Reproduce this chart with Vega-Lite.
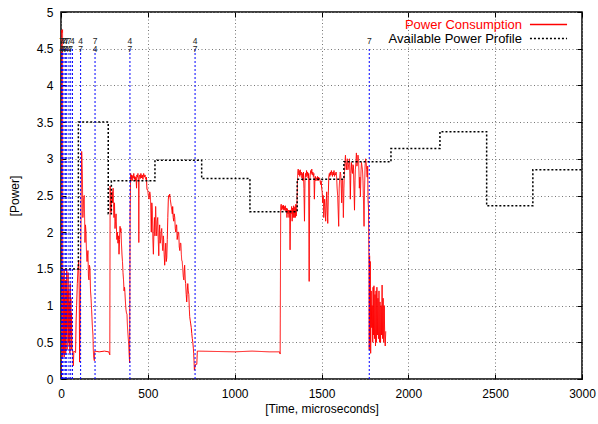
{
  "$schema": "https://vega.github.io/schema/vega-lite/v6.json",
  "width": 521,
  "height": 367,
  "autosize": "none",
  "padding": {"left": 61, "top": 12, "right": 16, "bottom": 45},
  "background": "white",
  "config": {
    "view": {"stroke": "black", "strokeWidth": 1.5},
    "font": "Liberation Sans",
    "axis": {
      "labelFont": "Liberation Sans", "labelFontSize": 12, "labelColor": "#000",
      "titleFont": "Liberation Sans", "titleFontSize": 12, "titleFontWeight": "normal", "titleColor": "#000",
      "grid": true, "gridColor": "#777", "gridDash": [1, 2.5], "gridOpacity": 1,
      "domain": false, "tickColor": "#000", "tickSize": -5, "tickWidth": 1,
      "labelFlush": false, "labelOverlap": false, "labelExpr": "datum.value + ''"
    }
  },
  "datasets": {
    "power": [
      {"t":0,"p":0},{"t":1,"p":0},{"t":2,"p":4.75},{"t":6,"p":4.72},{"t":9,"p":4.76},{"t":10,"p":0.3},{"t":12,"p":1.4},{"t":13,"p":0.35},{"t":15,"p":1.2},{"t":16,"p":0.4},{"t":18,"p":1.5},{"t":19,"p":0.3},{"t":21,"p":1.1},{"t":23,"p":0.5},{"t":25,"p":1.35},{"t":27,"p":0.35},{"t":29,"p":1.0},{"t":31,"p":0.6},{"t":33,"p":1.5},{"t":35,"p":0.4},{"t":37,"p":1.2},{"t":39,"p":0.7},{"t":41,"p":1.45},{"t":43,"p":0.5},{"t":45,"p":1.2},{"t":47,"p":0.45},{"t":49,"p":1.05},{"t":51,"p":0.35},{"t":53,"p":1.3},{"t":55,"p":0.6},{"t":57,"p":1.1},{"t":59,"p":0.4},{"t":61,"p":0.9},{"t":64,"p":0.4},{"t":68,"p":0.35},{"t":71,"p":0.18},{"t":74,"p":0.38},{"t":80,"p":0.37},{"t":84,"p":0.36},{"t":87,"p":0.8},{"t":90,"p":1.0},{"t":94,"p":1.3},{"t":98,"p":1.5},{"t":102,"p":1.62},{"t":105,"p":1.2},{"t":107,"p":0.23},{"t":110,"p":0.6},{"t":113,"p":1.5},{"t":116,"p":2.4},{"t":119,"p":3.1},{"t":123,"p":2.8},{"t":126,"p":2.2},{"t":130,"p":2.45},{"t":134,"p":2.5},{"t":138,"p":1.86},{"t":141,"p":2.1},{"t":144,"p":2.0},{"t":147,"p":1.7},{"t":150,"p":1.6},{"t":155,"p":1.75},{"t":158,"p":1.4},{"t":161,"p":1.35},{"t":164,"p":1.55},{"t":167,"p":1.5},{"t":170,"p":1.2},{"t":173,"p":1.1},{"t":176,"p":0.95},{"t":178,"p":0.85},{"t":181,"p":0.7},{"t":184,"p":0.6},{"t":186,"p":0.4},{"t":188,"p":0.3},{"t":192,"p":0.25},{"t":194,"p":0.38},{"t":220,"p":0.37},{"t":250,"p":0.38},{"t":275,"p":0.37},{"t":281,"p":0.33},{"t":283,"p":2.63},{"t":286,"p":2.35},{"t":288,"p":2.27},{"t":291,"p":2.45},{"t":294,"p":2.55},{"t":297,"p":2.4},{"t":300,"p":2.6},{"t":303,"p":2.3},{"t":305,"p":2.2},{"t":308,"p":2.4},{"t":311,"p":2.05},{"t":314,"p":2.15},{"t":317,"p":2.25},{"t":320,"p":2.0},{"t":322,"p":1.9},{"t":325,"p":2.0},{"t":328,"p":1.85},{"t":331,"p":1.95},{"t":334,"p":1.7},{"t":337,"p":1.9},{"t":340,"p":2.08},{"t":343,"p":2.0},{"t":345,"p":2.05},{"t":348,"p":1.85},{"t":351,"p":1.7},{"t":354,"p":1.6},{"t":357,"p":1.45},{"t":360,"p":1.35},{"t":363,"p":1.2},{"t":366,"p":1.25},{"t":368,"p":1.18},{"t":371,"p":1.05},{"t":374,"p":0.95},{"t":377,"p":0.9},{"t":380,"p":0.88},{"t":383,"p":0.7},{"t":386,"p":0.6},{"t":389,"p":0.5},{"t":391,"p":0.4},{"t":395,"p":0.22},{"t":398,"p":2.2},{"t":401,"p":2.8},{"t":404,"p":2.72},{"t":407,"p":2.78},{"t":410,"p":2.7},{"t":413,"p":2.77},{"t":416,"p":2.74},{"t":419,"p":2.8},{"t":422,"p":2.72},{"t":425,"p":2.76},{"t":428,"p":2.7},{"t":431,"p":2.75},{"t":433,"p":2.7},{"t":435,"p":2.6},{"t":437,"p":2.78},{"t":440,"p":2.75},{"t":443,"p":2.8},{"t":446,"p":2.72},{"t":448,"p":1.86},{"t":450,"p":2.75},{"t":453,"p":2.78},{"t":456,"p":2.73},{"t":460,"p":2.8},{"t":464,"p":2.74},{"t":468,"p":2.78},{"t":472,"p":2.72},{"t":476,"p":2.8},{"t":480,"p":2.75},{"t":484,"p":2.78},{"t":488,"p":2.72},{"t":492,"p":2.75},{"t":495,"p":2.58},{"t":499,"p":2.58},{"t":503,"p":2.5},{"t":507,"p":2.45},{"t":511,"p":2.55},{"t":515,"p":2.5},{"t":518,"p":2.2},{"t":520,"p":2.0},{"t":523,"p":2.4},{"t":526,"p":2.3},{"t":529,"p":1.9},{"t":532,"p":1.7},{"t":535,"p":2.0},{"t":538,"p":2.2},{"t":541,"p":1.95},{"t":545,"p":2.35},{"t":548,"p":2.1},{"t":551,"p":1.95},{"t":554,"p":2.15},{"t":557,"p":2.2},{"t":560,"p":1.9},{"t":563,"p":1.68},{"t":566,"p":2.0},{"t":568,"p":2.1},{"t":571,"p":1.85},{"t":574,"p":1.9},{"t":577,"p":2.0},{"t":580,"p":2.05},{"t":583,"p":1.85},{"t":586,"p":1.75},{"t":589,"p":1.95},{"t":591,"p":1.9},{"t":594,"p":1.7},{"t":597,"p":1.55},{"t":600,"p":1.7},{"t":603,"p":1.85},{"t":606,"p":1.6},{"t":609,"p":1.65},{"t":612,"p":1.9},{"t":615,"p":2.2},{"t":618,"p":2.45},{"t":620,"p":2.5},{"t":623,"p":2.48},{"t":626,"p":2.52},{"t":629,"p":2.45},{"t":632,"p":2.4},{"t":635,"p":2.35},{"t":638,"p":2.3},{"t":641,"p":2.25},{"t":643,"p":2.35},{"t":646,"p":2.2},{"t":649,"p":2.15},{"t":652,"p":2.25},{"t":655,"p":2.2},{"t":658,"p":2.05},{"t":661,"p":2.0},{"t":664,"p":2.1},{"t":666,"p":2.1},{"t":669,"p":1.9},{"t":672,"p":1.95},{"t":675,"p":2.0},{"t":678,"p":2.0},{"t":681,"p":1.8},{"t":684,"p":1.75},{"t":687,"p":1.85},{"t":690,"p":1.85},{"t":693,"p":1.7},{"t":695,"p":1.62},{"t":698,"p":1.6},{"t":701,"p":1.5},{"t":704,"p":1.4},{"t":707,"p":1.35},{"t":710,"p":1.5},{"t":712,"p":1.55},{"t":715,"p":1.35},{"t":718,"p":1.3},{"t":721,"p":1.15},{"t":724,"p":1.05},{"t":727,"p":1.2},{"t":730,"p":1.3},{"t":733,"p":1.2},{"t":736,"p":1.15},{"t":739,"p":0.95},{"t":741,"p":0.85},{"t":744,"p":0.8},{"t":747,"p":0.75},{"t":750,"p":0.7},{"t":753,"p":0.62},{"t":756,"p":0.55},{"t":759,"p":0.5},{"t":762,"p":0.42},{"t":764,"p":0.35},{"t":766,"p":0.25},{"t":768,"p":0.12},{"t":775,"p":0.2},{"t":782,"p":0.2},{"t":785,"p":0.38},{"t":1000,"p":0.37},{"t":1100,"p":0.38},{"t":1200,"p":0.37},{"t":1258,"p":0.37},{"t":1262,"p":0.34},
      {"t":1265,"p":2.35},{"t":1268,"p":2.38},{"t":1271,"p":2.3},{"t":1274,"p":2.36},{"t":1277,"p":2.32},{"t":1280,"p":2.37},{"t":1283,"p":2.3},{"t":1286,"p":2.35},{"t":1289,"p":2.3},{"t":1292,"p":2.36},{"t":1295,"p":2.28},{"t":1298,"p":2.33},{"t":1301,"p":2.2},{"t":1304,"p":2.32},{"t":1307,"p":2.25},{"t":1310,"p":2.3},{"t":1313,"p":2.2},{"t":1316,"p":2.3},{"t":1319,"p":1.76},{"t":1322,"p":2.3},{"t":1325,"p":2.25},{"t":1328,"p":2.35},{"t":1331,"p":2.15},{"t":1334,"p":2.33},{"t":1337,"p":2.2},{"t":1340,"p":2.36},{"t":1343,"p":2.2},{"t":1346,"p":2.34},{"t":1349,"p":2.2},{"t":1352,"p":2.38},{"t":1355,"p":2.22},{"t":1358,"p":2.35},{"t":1361,"p":2.6},{"t":1363,"p":2.82},{"t":1366,"p":2.86},{"t":1369,"p":2.78},{"t":1372,"p":2.84},{"t":1375,"p":2.76},{"t":1378,"p":2.85},{"t":1381,"p":2.78},{"t":1384,"p":2.82},{"t":1387,"p":2.74},{"t":1390,"p":2.8},{"t":1393,"p":2.7},{"t":1396,"p":2.82},{"t":1399,"p":2.6},{"t":1402,"p":2.15},{"t":1405,"p":2.7},{"t":1408,"p":2.8},{"t":1411,"p":2.75},{"t":1414,"p":2.84},{"t":1417,"p":2.77},{"t":1420,"p":2.82},{"t":1423,"p":2.74},{"t":1426,"p":2.8},{"t":1429,"p":1.33},{"t":1432,"p":2.7},{"t":1435,"p":2.78},{"t":1438,"p":2.84},{"t":1441,"p":2.8},{"t":1444,"p":2.86},{"t":1447,"p":2.78},{"t":1450,"p":2.82},{"t":1453,"p":2.76},{"t":1456,"p":2.8},{"t":1459,"p":2.45},{"t":1462,"p":2.72},{"t":1465,"p":2.76},{"t":1468,"p":2.7},{"t":1471,"p":2.74},{"t":1474,"p":2.72},{"t":1477,"p":2.76},{"t":1480,"p":2.7},{"t":1483,"p":2.75},{"t":1486,"p":2.72},{"t":1489,"p":2.74},{"t":1492,"p":2.7},{"t":1495,"p":2.65},{"t":1498,"p":2.7},{"t":1501,"p":2.6},{"t":1504,"p":2.55},{"t":1507,"p":2.4},{"t":1510,"p":2.5},{"t":1513,"p":2.2},{"t":1516,"p":2.35},{"t":1518,"p":2.45},{"t":1521,"p":2.3},{"t":1524,"p":2.15},{"t":1527,"p":2.4},{"t":1530,"p":2.55},{"t":1533,"p":2.3},{"t":1536,"p":2.12},{"t":1539,"p":2.5},{"t":1542,"p":2.75},{"t":1545,"p":2.8},{"t":1548,"p":2.76},{"t":1551,"p":2.82},{"t":1554,"p":2.78},{"t":1557,"p":2.84},{"t":1560,"p":2.8},{"t":1563,"p":2.76},{"t":1566,"p":2.82},{"t":1569,"p":2.78},{"t":1572,"p":2.84},{"t":1575,"p":2.76},{"t":1578,"p":2.8},{"t":1581,"p":2.78},{"t":1584,"p":2.82},{"t":1587,"p":2.75},{"t":1590,"p":2.6},{"t":1593,"p":2.5},{"t":1596,"p":2.3},{"t":1599,"p":2.08},{"t":1602,"p":2.6},{"t":1605,"p":2.75},{"t":1608,"p":2.82},{"t":1611,"p":2.78},{"t":1614,"p":2.6},{"t":1616,"p":2.4},{"t":1619,"p":2.72},{"t":1622,"p":2.7},{"t":1624,"p":2.45},{"t":1626,"p":2.2},{"t":1629,"p":2.6},{"t":1632,"p":2.8},{"t":1635,"p":2.95},{"t":1638,"p":3.05},{"t":1641,"p":2.9},{"t":1643,"p":2.85},{"t":1646,"p":2.95},{"t":1649,"p":3.0},{"t":1652,"p":2.85},{"t":1655,"p":2.9},{"t":1658,"p":2.95},{"t":1661,"p":3.0},{"t":1664,"p":2.7},{"t":1666,"p":2.45},{"t":1669,"p":2.8},{"t":1672,"p":2.95},{"t":1675,"p":2.85},{"t":1678,"p":2.8},{"t":1681,"p":2.92},{"t":1684,"p":2.9},{"t":1687,"p":2.6},{"t":1690,"p":2.3},{"t":1693,"p":2.7},{"t":1695,"p":2.85},{"t":1698,"p":2.95},{"t":1701,"p":3.08},{"t":1704,"p":2.9},{"t":1707,"p":2.95},{"t":1710,"p":3.05},{"t":1713,"p":3.0},{"t":1716,"p":2.8},{"t":1718,"p":2.6},{"t":1721,"p":2.75},{"t":1724,"p":2.48},{"t":1727,"p":2.8},{"t":1730,"p":2.95},{"t":1733,"p":2.9},{"t":1736,"p":2.85},{"t":1739,"p":2.7},{"t":1741,"p":2.5},{"t":1743,"p":2.3},{"t":1745,"p":2.08},{"t":1748,"p":2.6},{"t":1751,"p":2.9},{"t":1754,"p":3.0},{"t":1757,"p":2.95},{"t":1760,"p":2.85},{"t":1763,"p":2.75},{"t":1766,"p":2.9},{"t":1768,"p":2.45},{"t":1771,"p":2.3},{"t":1773,"p":1.7},{"t":1775,"p":0.4},{"t":1777,"p":1.68},{"t":1779,"p":0.5},{"t":1781,"p":1.6},{"t":1783,"p":0.35},{"t":1786,"p":1.2},{"t":1789,"p":0.7},{"t":1792,"p":1.0},{"t":1795,"p":0.5},{"t":1797,"p":1.25},{"t":1799,"p":0.6},{"t":1802,"p":1.27},{"t":1805,"p":0.55},{"t":1808,"p":1.15},{"t":1811,"p":0.45},{"t":1814,"p":1.2},{"t":1816,"p":0.5},{"t":1819,"p":1.25},{"t":1822,"p":0.6},{"t":1825,"p":1.1},{"t":1828,"p":0.55},{"t":1831,"p":1.2},{"t":1834,"p":0.5},{"t":1837,"p":1.05},{"t":1840,"p":0.5},{"t":1843,"p":1.0},{"t":1846,"p":0.6},{"t":1849,"p":1.28},{"t":1852,"p":0.55},{"t":1855,"p":1.1},{"t":1858,"p":0.5},{"t":1861,"p":1.0},{"t":1864,"p":0.6},{"t":1867,"p":0.45},{"t":1870,"p":0.65}
    ],
    "profile": [
      {"t":0,"p":1.5},{"t":100,"p":3.5},{"t":272,"p":2.25},{"t":290,"p":2.7},{"t":541,"p":2.98},{"t":810,"p":2.73},{"t":1088,"p":2.28},{"t":1360,"p":2.72},{"t":1629,"p":2.96},{"t":1900,"p":3.14},{"t":2182,"p":3.37},{"t":2451,"p":2.36},{"t":2717,"p":2.85},{"t":3000,"p":2.85}
    ],
    "events": [
      {"t":3,"a":"7","b":"4"},{"t":9,"a":"4","b":"7"},{"t":17,"a":"7","b":"4"},{"t":25,"a":"4","b":"7"},{"t":33,"a":"7","b":"4"},{"t":46,"a":"7","b":"4"},{"t":56,"a":"","b":"7"},{"t":66,"a":"4","b":""},{"t":113,"a":"4","b":"7"},{"t":196,"a":"7","b":"4"},{"t":397,"a":"4","b":"7"},{"t":772,"a":"4","b":"7"},{"t":1775,"a":"7","b":""}
    ]
  },
  "resolve": {"axis": {"x": "independent", "y": "independent"}},
  "layer": [
    {
      "data": {"name": "power"},
      "mark": {"type": "line", "strokeWidth": 1, "clip": true},
      "encoding": {
        "x": {"field": "t", "type": "quantitative", "scale": {"domain": [0, 3000], "nice": false},
              "axis": {"values": [0,500,1000,1500,2000,2500,3000], "title": "[Time, microseconds]", "labelPadding": 14, "titlePadding": 4}},
        "y": {"field": "p", "type": "quantitative", "scale": {"domain": [0, 5], "nice": false, "zero": false},
              "axis": {"values": [0,0.5,1,1.5,2,2.5,3,3.5,4,4.5,5], "title": "[Power]", "labelPadding": 13, "titlePadding": 15}},
        "color": {"datum": "Power Consumption", "type": "nominal",
                  "scale": {"domain": ["Power Consumption", "Available Power Profile"], "range": ["#ff0000", "#000000"]},
                  "legend": {"title": null, "orient": "none", "legendX": 481, "legendY": 6,
                             "symbolType": "M-4,0H4", "symbolSize": 86, "symbolStrokeWidth": 1.5,
                             "labelFont": "Liberation Sans", "labelFontSize": 13, "labelAlign": "right", "labelOffset": -33,
                             "rowPadding": 0, "padding": 0,
                             "encode": {"labels": {"update": {"fill": {"signal": "datum.value == 'Power Consumption' ? '#ff0000' : '#000000'"}}}}}},
        "strokeDash": {"datum": "Power Consumption", "type": "nominal",
                       "scale": {"domain": ["Power Consumption", "Available Power Profile"], "range": [[1, 0], [2, 2]]},
                       "legend": null}
      }
    },
    {
      "data": {"name": "profile"},
      "mark": {"type": "line", "interpolate": "step-after", "strokeWidth": 1.5},
      "encoding": {
        "x": {"field": "t", "type": "quantitative", "axis": {"orient": "top", "labels": false, "title": null, "grid": false, "values": [0,500,1000,1500,2000,2500,3000]}},
        "y": {"field": "p", "type": "quantitative", "axis": {"orient": "right", "labels": false, "title": null, "grid": false, "values": [0,0.5,1,1.5,2,2.5,3,3.5,4,4.5,5]}},
        "color": {"datum": "Available Power Profile", "type": "nominal"},
        "strokeDash": {"datum": "Available Power Profile", "type": "nominal", "legend": null}
      }
    },
    {
      "data": {"name": "events"},
      "mark": {"type": "rule", "color": "#0000ff", "strokeWidth": 1, "strokeDash": [2, 2]},
      "encoding": {
        "x": {"field": "t", "type": "quantitative", "axis": null},
        "y": {"datum": 0, "axis": null},
        "y2": {"datum": 4.5}
      }
    },
    {
      "data": {"name": "events"},
      "mark": {"type": "text", "font": "Liberation Sans", "fontSize": 8.5, "color": "#222", "baseline": "middle"},
      "encoding": {
        "x": {"field": "t", "type": "quantitative", "axis": null},
        "y": {"datum": 4.61, "axis": null},
        "text": {"field": "a"}
      }
    },
    {
      "data": {"name": "events"},
      "mark": {"type": "text", "font": "Liberation Sans", "fontSize": 8.5, "color": "#222", "baseline": "middle"},
      "encoding": {
        "x": {"field": "t", "type": "quantitative", "axis": null},
        "y": {"datum": 4.49, "axis": null},
        "text": {"field": "b"}
      }
    }
  ]
}
